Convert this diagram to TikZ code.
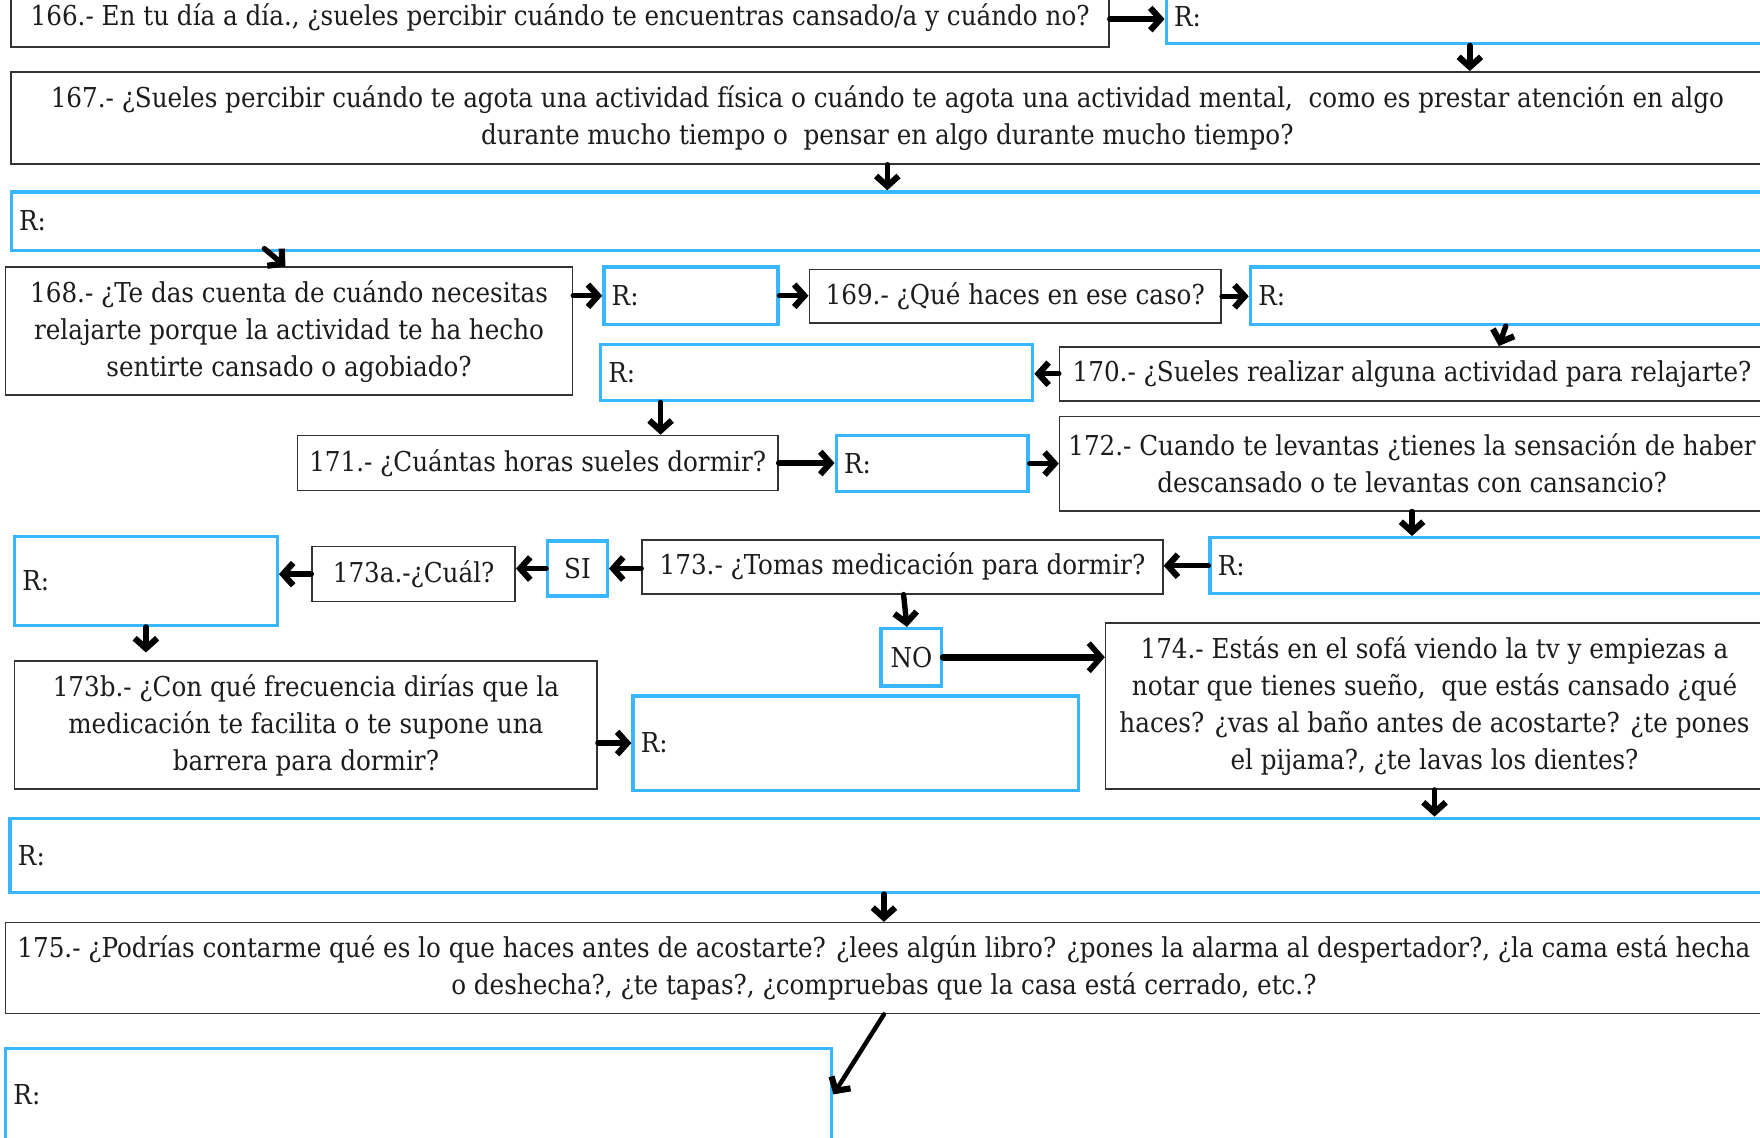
\documentclass[tikz,border=0pt]{standalone}
\usepackage{fontspec}
\setmainfont{DejaVu Serif Condensed}
\usetikzlibrary{arrows.meta,calc}
\definecolor{sky}{HTML}{38B6FF}
\definecolor{ink}{HTML}{1C1C1C}
\definecolor{edge}{HTML}{333333}
\newcommand\qfont{\fontsize{24.4}{33}\selectfont}

\begin{document}
\begin{tikzpicture}[x=1pt,y=-1pt,
  qbox/.style={draw=edge, line width=1.4pt, rectangle, inner sep=0pt,
               align=center, text=ink, font=\qfont},
  rbox/.style={draw=sky, line width=3pt, rectangle, inner ysep=0pt, inner xsep=7pt,
               text width=#1, align=left, text=ink, font=\qfont},
  cbox/.style={draw=sky, line width=3pt, rectangle, inner sep=0pt,
               align=center, text=ink, font=\qfont},
  arr/.style={line width=4.8pt, line cap=round, line join=round,
              -{Straight Barb[length=9pt,width=20pt,line width=5.5pt]}},
  bigarr/.style={line width=6.5pt, line cap=round, line join=round,
              -{Straight Barb[length=11pt,width=25pt,line width=5pt]}}]

\useasboundingbox (0,0) rectangle (1568,1013);
\path[clip] (0,0) rectangle (1568,1013);
\fill[white] (0,0) rectangle (1568,1013);

% question boxes (black) and answer boxes (blue)
\node[qbox, minimum width=978pt, minimum height=52pt] (q166) at (499,16)
  {166.- En tu día a día., ¿sueles percibir cuándo te encuentras cansado/a y cuándo no?};
\node[rbox=527pt, minimum height=49pt] (r1) at (1309.5,14.5) {R:};

\node[qbox, minimum width=1561pt, minimum height=82pt] (q167) at (790.5,105)
  {167.- ¿Sueles percibir cuándo te agota una actividad física o cuándo te agota una actividad mental,\ \ como es prestar atención en algo\\
   durante mucho tiempo o\ \ pensar en algo durante mucho tiempo?};
\node[rbox=1556pt, minimum height=52pt] (r2) at (795,197) {R:};

\node[qbox, minimum width=505pt, minimum height=114pt] (q168) at (257.5,295)
  {168.- ¿Te das cuenta de cuándo necesitas\\ relajarte porque la actividad te ha hecho\\ sentirte cansado o agobiado?};
\node[rbox=141pt, minimum height=51pt] (r3) at (615.5,263.5) {R:};
\node[qbox, minimum width=367pt, minimum height=48pt] (q169) at (904.5,264)
  {169.- ¿Qué haces en ese caso?};
\node[rbox=452pt, minimum height=51pt] (r4) at (1347,263.5) {R:};

\node[qbox, minimum width=628pt, minimum height=48pt] (q170) at (1258,333)
  {170.- ¿Sueles realizar alguna actividad para relajarte?};
\node[rbox=371pt, minimum height=50pt] (r5) at (727.5,332) {R:};

\node[qbox, minimum width=428pt, minimum height=49pt] (q171) at (479,412.5)
  {171.- ¿Cuántas horas sueles dormir?};
\node[rbox=157pt, minimum height=50pt] (r6) at (830.5,413) {R:};
\node[qbox, minimum width=628pt, minimum height=84pt] (q172) at (1258,413)
  {172.- Cuando te levantas ¿tienes la sensación de haber\\ descansado o te levantas con cansancio?};

\node[rbox=488pt, minimum height=50pt] (r7) at (1329,504) {R:};
\node[qbox, minimum width=464pt, minimum height=48pt] (q173) at (804,505)
  {173.- ¿Tomas medicación para dormir?};
\node[cbox, minimum width=53pt, minimum height=49pt] (si) at (514.5,506.5) {SI};
\node[qbox, minimum width=181pt, minimum height=49pt] (q173a) at (368.5,511.5)
  {173a.-¿Cuál?};
\node[rbox=220pt, minimum height=79pt] (r8) at (130,517.5) {R:};

\node[qbox, minimum width=519pt, minimum height=114pt] (q173b) at (272.5,646)
  {173b.- ¿Con qué frecuencia dirías que la\\ medicación te facilita o te supone una\\ barrera para dormir?};
\node[rbox=383pt, minimum height=84pt] (r9) at (762.5,662) {R:};
\node[cbox, minimum width=54pt, minimum height=51pt] (no) at (812,585.5) {NO};
\node[qbox, minimum width=586pt, minimum height=148pt] (q174) at (1278,629)
  {174.- Estás en el sofá viendo la tv y empiezas a\\ notar que tienes sueño,\ \ que estás cansado ¿qué\\ haces? ¿vas al baño antes de acostarte? ¿te pones\\ el pijama?, ¿te lavas los dientes?};

\node[rbox=1557pt, minimum height=66pt] (r10) at (794.5,762) {R:};
\node[qbox, minimum width=1565pt, minimum height=81pt] (q175) at (787.5,862.5)
  {175.- ¿Podrías contarme qué es lo que haces antes de acostarte? ¿lees algún libro? ¿pones la alarma al despertador?, ¿la cama está hecha\\
   o deshecha?, ¿te tapas?, ¿compruebas que la casa está cerrado, etc.?};
\node[rbox=722pt, minimum height=82pt] (r11) at (373,975) {R:};

% connectors
\draw[arr] (q166.east |- 0,17) -- (r1.west |- 0,17);
\draw[arr] (r1.south) -- (r1.south |- q167.north);
\draw[arr] (q167.south) -- (q167.south |- r2.north);
\draw[arr] ([xshift=227pt,yshift=3pt]r2.south west) -- ([xshift=250pt]q168.north west);
\draw[arr] (r3.west -| q168.east) -- (r3.west);
\draw[arr] (r3.east) -- (r3.east -| q169.west);
\draw[arr] (q169.east) -- (q169.east -| r4.west);
\draw[arr] ([xshift=229pt]r4.south west) -- ([xshift=392pt]q170.north west);
\draw[arr] (q170.west) -- (q170.west -| r5.east);
\draw[arr] ([xshift=55pt]r5.south west) -- ([xshift=55pt]r5.south west |- q171.north);
\draw[arr] (q171.east) -- (q171.east -| r6.west);
\draw[arr] (r6.east) -- (r6.east -| q172.west);
\draw[arr] (q172.south) -- (q172.south |- r7.north);
\draw[arr] (r7.west) -- (r7.west -| q173.east);
\draw[arr] (q173.west |- si.west) -- (si.east);
\draw[arr] (si.west) -- (si.west -| q173a.east);
\draw[arr] (q173a.west) -- (q173a.west -| r8.east);
\draw[arr, shorten >=7pt] (r8.south) -- (r8.south |- q173b.north);
\draw[arr] (r9.west -| q173b.east) -- (r9.west);
\draw[arr] ([xshift=1pt]q173.south) -- ([xshift=-4pt]no.north);
\draw[bigarr] (no.east) -- (no.east -| q174.west);
\draw[arr] (q174.south) -- (q174.south |- r10.north);
\draw[arr] (r10.south -| q175.north) -- (q175.north);
\draw[arr, line width=4pt] (q175.south) -- (r11.east);
\end{tikzpicture}
\end{document}
